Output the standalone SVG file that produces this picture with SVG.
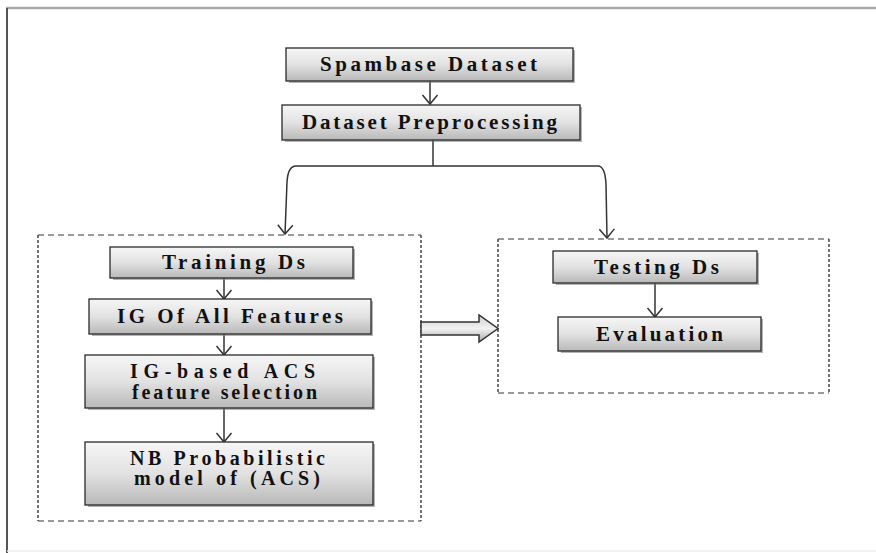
<svg xmlns="http://www.w3.org/2000/svg" width="876" height="553" viewBox="0 0 876 553">
<style>
  .box { fill: url(#g); stroke: #2a2a2a; stroke-width: 1.3; }
  .shadow { fill: #777; opacity: 0.55; }
  .t { font-family: "Liberation Serif", "Times New Roman", serif; font-weight: bold; font-size: 21px; fill: #111; }
  .t2 { font-size: 20px; }
  .c { fill: none; stroke: #333; stroke-width: 1.5; }
  .dh { fill: none; stroke: #9a9a9a; stroke-width: 2; stroke-dasharray: 6 4; }
  .dv { fill: none; stroke: #444; stroke-width: 1.5; stroke-dasharray: 3 2; }
</style>
<defs>
  <linearGradient id="g" x1="0" y1="0" x2="0" y2="1">
    <stop offset="0" stop-color="#f6f6f6"/>
    <stop offset="0.5" stop-color="#e2e2e2"/>
    <stop offset="1" stop-color="#b8b8b8"/>
  </linearGradient>
  <linearGradient id="ga" x1="0" y1="0" x2="0" y2="1">
    <stop offset="0" stop-color="#cfcfcf"/>
    <stop offset="0.5" stop-color="#f2f2f2"/>
    <stop offset="1" stop-color="#a9a9a9"/>
  </linearGradient>
  <marker id="v" markerWidth="12" markerHeight="18" refX="10" refY="9" orient="auto" markerUnits="userSpaceOnUse" viewBox="0 0 12 18">
    <polyline points="1,1.5 10,9 1,16.5" fill="none" stroke="#333" stroke-width="1.5"/>
  </marker>
</defs>
<rect x="0" y="0" width="876" height="553" fill="#fff"/>
<g id="frame">
  <line x1="6" y1="8" x2="876" y2="8" stroke="#a8a8a8" stroke-width="2.5"/>
  <line x1="7" y1="8" x2="7" y2="553" stroke="#555" stroke-width="2"/>
  <line x1="7" y1="551" x2="876" y2="551" stroke="#eee" stroke-width="1.5"/>
</g>
<g id="containers">
  <g id="train-group">
    <line class="dh" x1="38" y1="235" x2="421" y2="235"/>
    <line class="dh" x1="38" y1="521" x2="421" y2="521"/>
    <line class="dv" x1="38" y1="235" x2="38" y2="521"/>
    <line class="dv" x1="421" y1="235" x2="421" y2="521"/>
  </g>
  <g id="test-group">
    <line class="dh" x1="498" y1="239" x2="829" y2="239"/>
    <line class="dh" x1="498" y1="393" x2="829" y2="393"/>
    <line class="dv" x1="498" y1="239" x2="498" y2="393"/>
    <line class="dv" x1="829" y1="239" x2="829" y2="393"/>
  </g>
</g>
<g id="connectors">
  <line class="c" x1="430" y1="81" x2="430" y2="104" marker-end="url(#v)"/>
  <path class="c" d="M433,140 V166"/>
  <path class="c" d="M433,166 H296 Q288,166 287,182 L285,234" marker-end="url(#v)"/>
  <path class="c" d="M433,166 H598 Q605,166 606,184 L607,238" marker-end="url(#v)"/>
  <line class="c" x1="224" y1="278" x2="224" y2="299" marker-end="url(#v)"/>
  <line class="c" x1="224" y1="334" x2="224" y2="355" marker-end="url(#v)"/>
  <line class="c" x1="224" y1="408" x2="224" y2="442" marker-end="url(#v)"/>
  <line class="c" x1="655" y1="283" x2="655" y2="317" marker-end="url(#v)"/>
  <polygon id="block-arrow" points="421,322 479,322 479,315 498,328.5 479,342 479,335 421,335" fill="url(#ga)" stroke="#333" stroke-width="1.5"/>
</g>
<g id="spambase">
  <rect class="shadow" x="289" y="50" width="286" height="33"/>
  <rect class="box" x="286" y="48" width="287" height="33"/>
  <text class="t" x="320" y="71" textLength="217" lengthAdjust="spacing">Spambase Dataset</text>
</g>
<g id="preprocessing">
  <rect class="shadow" x="285" y="107" width="297" height="35"/>
  <rect class="box" x="282" y="105" width="298" height="35"/>
  <text class="t" x="302" y="129" textLength="255" lengthAdjust="spacing">Dataset Preprocessing</text>
</g>
<g id="training">
  <rect class="shadow" x="113" y="249" width="242" height="31"/>
  <rect class="box" x="110" y="247" width="243" height="31"/>
  <text class="t" x="162" y="269" textLength="143" lengthAdjust="spacing">Training Ds</text>
</g>
<g id="ig-features">
  <rect class="shadow" x="92" y="301" width="281" height="35"/>
  <rect class="box" x="89" y="299" width="282" height="35"/>
  <text class="t" x="117" y="323" textLength="226" lengthAdjust="spacing">IG Of All Features</text>
</g>
<g id="ig-acs">
  <rect class="shadow" x="88" y="357" width="287" height="53"/>
  <rect class="box" x="85" y="355" width="288" height="53"/>
  <text class="t t2" x="130" y="378" textLength="185" lengthAdjust="spacing">IG-based ACS</text>
  <text class="t t2" x="132" y="399" textLength="185" lengthAdjust="spacing">feature selection</text>
</g>
<g id="nb-model">
  <rect class="shadow" x="88" y="444" width="287" height="63"/>
  <rect class="box" x="85" y="442" width="288" height="63"/>
  <text class="t t2" x="130" y="465" textLength="195" lengthAdjust="spacing">NB Probabilistic</text>
  <text class="t t2" x="134" y="485" textLength="186" lengthAdjust="spacing">model of (ACS)</text>
</g>
<g id="testing">
  <rect class="shadow" x="556" y="253" width="203" height="32"/>
  <rect class="box" x="553" y="251" width="204" height="32"/>
  <text class="t" x="594" y="274" textLength="125" lengthAdjust="spacing">Testing Ds</text>
</g>
<g id="evaluation">
  <rect class="shadow" x="561" y="319" width="202" height="34"/>
  <rect class="box" x="558" y="317" width="203" height="34"/>
  <text class="t" x="596" y="341" textLength="127" lengthAdjust="spacing">Evaluation</text>
</g>
</svg>
